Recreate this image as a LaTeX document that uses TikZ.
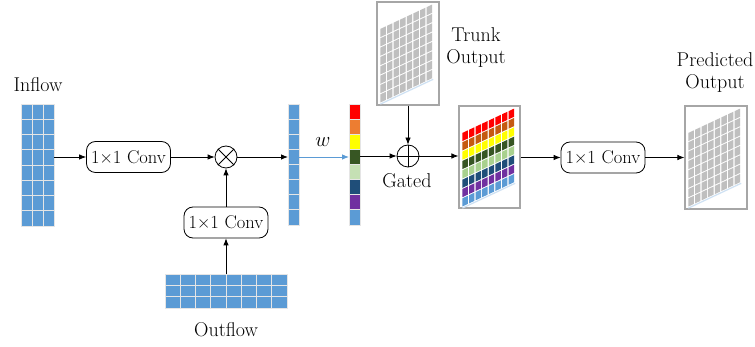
\documentclass[tikz,border=0pt]{standalone}
\usetikzlibrary{arrows.meta,shapes.geometric}
\definecolor{cblue}{HTML}{5B9BD5}
\definecolor{cred}{HTML}{FF0000}
\definecolor{corange}{HTML}{ED7D31}
\definecolor{cbrown}{HTML}{C55A11}
\definecolor{cyellow}{HTML}{FFFF00}
\definecolor{cdgreen}{HTML}{375623}
\definecolor{clgreen}{HTML}{C5E0B4}
\definecolor{cmgreen}{HTML}{A9D18E}
\definecolor{cdblue}{HTML}{1F4E79}
\definecolor{cpurple}{HTML}{7030A0}
\definecolor{cgridgray}{HTML}{BFBFBF}
\definecolor{cframe}{HTML}{A6A6A6}
\tikzset{
  lbl/.style={font=\fontsize{20}{22}\selectfont, inner sep=0pt},
  convbox/.style={draw, rounded corners=9pt, line width=0.8pt, minimum width=84pt,
    minimum height=31pt, inner sep=1pt, font=\fontsize{18.5}{22}\selectfont},
  opnode/.style={draw, circle, line width=0.8pt, minimum size=22pt, inner sep=0pt},
  slot/.style={inner sep=0pt, outer sep=0pt},
  imgbox/.style={draw=cframe, line width=1.2pt, fill=white, inner sep=0pt,
    minimum width=62pt, minimum height=103pt},
  cell/.style={draw=gray!20, line width=0.8pt},
  conn/.style={line width=0.8pt, -{Latex[length=7pt,width=5.5pt]}},
  plain/.style={line width=0.8pt},
}
% skewed 8x8 map drawn inside an image box; #1 = box name, #2 = row colours
\newcommand\skewmap[2]{%
  \begin{scope}[shift={(#1.north west)}, shift={(4,27.5)}, cm={1,0.47,0,1,(0,0)}]
    \foreach \rc [count=\j from 0] in {#2} {
      \foreach \i in {0,...,7} {
        \fill[\rc] (\i*6.6, \j*9.35) rectangle ++(5.4, 8.15);
      }
    }
    \draw[cblue!30, line width=1.2pt] (0, 75.2) -- (52.8, 75.2);
  \end{scope}}
\begin{document}
\begin{tikzpicture}[x=1pt, y=-1pt]
\useasboundingbox (0,0) rectangle (755,347);

% ---- inputs
\node[slot, minimum width=33pt, minimum height=122pt] (inflow) at (37.5,165) {};
\begin{scope}[shift={(inflow.north west)}]
  \foreach \i in {0,1,2} \foreach \j in {0,...,7}
    \filldraw[cell, fill=cblue] (\i*11, \j*15.25) rectangle ++(11, 15.25);
\end{scope}
\node[lbl, anchor=base] (inflowlbl) at (38,92) {Inflow};

\node[slot, minimum width=122pt, minimum height=34pt] (outflow) at (226,291) {};
\begin{scope}[shift={(outflow.north west)}]
  \foreach \i in {0,...,7} \foreach \j in {0,1,2}
    \filldraw[cell, fill=cblue] (\i*15.25, \j*11.33) rectangle ++(15.25, 11.33);
\end{scope}
\node[lbl, anchor=base] (outflowlbl) at (226,337) {Outflow};

% ---- convolutions and fusion
\node[convbox] (conv1) at (128.5,157) {1\texttimes1 Conv};
\node[convbox] (conv2) at (226,222.5) {1\texttimes1 Conv};
\node[opnode] (otimes) at (226,157) {};
\draw[plain] (otimes.north west) -- (otimes.south east)
             (otimes.north east) -- (otimes.south west);

% ---- weight vector and coloured weights
\node[slot, minimum width=11pt, minimum height=121pt] (wcol) at (293.5,164.5) {};
\begin{scope}[shift={(wcol.north west)}]
  \foreach \j in {0,...,7}
    \filldraw[cell, fill=cblue] (0, \j*15.125) rectangle ++(11, 15.125);
\end{scope}
\node[slot, minimum width=11pt, minimum height=121pt] (ccol) at (354.5,164.5) {};
\begin{scope}[shift={(ccol.north west)}]
  \foreach \c [count=\j from 0] in {cred,corange,cyellow,cdgreen,clgreen,cdblue,cpurple,cblue}
    \filldraw[cell, fill=\c] (0, \j*15.125) rectangle ++(11, 15.125);
\end{scope}
\node[lbl] (wlbl) at (323,142) {$w$};

% ---- gating with trunk output
\node[opnode] (oplus) at (408,156) {};
\draw[plain] (oplus.north) -- (oplus.south) (oplus.west) -- (oplus.east);
\node[lbl, anchor=base] (gatedlbl) at (407,188) {Gated};

\node[imgbox] (trunk) at (408,53.5) {};
\skewmap{trunk}{cgridgray,cgridgray,cgridgray,cgridgray,cgridgray,cgridgray,cgridgray,cgridgray}
\node[lbl, anchor=north, align=center] (trunklbl) at (476,27) {Trunk\\Output};

\node[imgbox, minimum width=61pt, minimum height=102pt] (gated) at (489.5,157) {};
\skewmap{gated}{cred,cbrown,cyellow,cdgreen,cmgreen,cdblue,cpurple,cblue}

% ---- output head
\node[convbox] (conv3) at (603,157.5) {1\texttimes1 Conv};
\node[imgbox] (pred) at (716,157.5) {};
\skewmap{pred}{cgridgray,cgridgray,cgridgray,cgridgray,cgridgray,cgridgray,cgridgray,cgridgray}
\node[lbl, anchor=north, align=center] (predlbl) at (715,52) {Predicted\\Output};

% ---- connectors
\draw[conn] (inflow.east |- conv1.west) -- (conv1.west);
\draw[conn] (conv1.east) -- (otimes.west);
\draw[conn] (outflow.north) -- (conv2.south);
\draw[conn] (conv2.north) -- (otimes.south);
\draw[conn] (otimes.east) -- (wcol.west |- otimes.east);
\draw[conn, cblue] (wcol.east |- otimes.east) -- (ccol.west |- otimes.east);
\draw[conn] (ccol.east |- oplus.west) -- (oplus.west);
\draw[conn] (trunk.south) -- (oplus.north);
\draw[conn] (oplus.east) -- (gated.west |- oplus.east);
\draw[conn] (gated.east |- conv3.west) -- (conv3.west);
\draw[conn] (conv3.east) -- (pred.west |- conv3.east);
\end{tikzpicture}
\end{document}
